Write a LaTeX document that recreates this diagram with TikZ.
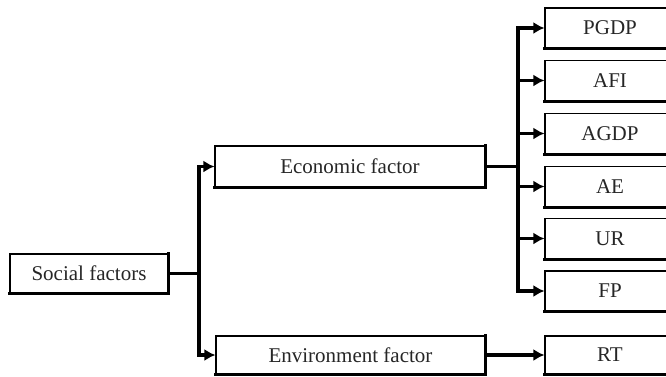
\documentclass[tikz,border=0pt]{standalone}
\usepackage{fontspec}
\setmainfont{Liberation Serif}
\usetikzlibrary{arrows.meta,positioning}
\tikzset{
  factorbox/.style={draw=black, line width=1.1pt, inner sep=0pt, text=black!85,
    font=\fontsize{21}{25}\selectfont},
  wideedge/.style={line width=3pt, line cap=rect},
  branch/.style={line width=3.2pt},
}

\begin{document}
\begin{tikzpicture}[>={Latex[length=11pt,width=12pt]}, x=1pt, y=-1pt]
      \useasboundingbox (0,0) rectangle (666,376);

      \node[factorbox, minimum width=158pt, minimum height=39pt] (soc) at (89,273.5) {Social factors};
      \node[factorbox, minimum width=270pt, minimum height=41pt] (eco) at (350,166.5) {Economic factor};
      \node[factorbox, minimum width=269pt, minimum height=38pt] (env) at (350.5,355) {Environment factor};

      \node[factorbox, minimum width=130pt, minimum height=40pt] (pgdp) at (610,28) {PGDP};
      \node[factorbox, minimum width=130pt, minimum height=40pt] (afi)  at (610,80.5) {AFI};
      \node[factorbox, minimum width=130pt, minimum height=40pt] (agdp) at (610,133.5) {AGDP};
      \node[factorbox, minimum width=130pt, minimum height=40pt] (ae)   at (610,186.5) {AE};
      \node[factorbox, minimum width=130pt, minimum height=40pt] (ur)   at (610,238.5) {UR};
      \node[factorbox, minimum width=130pt, minimum height=40pt] (fp)   at (610,291) {FP};
      \node[factorbox, minimum width=130pt, minimum height=38pt] (rt)   at (610,355) {RT};

      % heavy lower and right edges of the boxes
      \foreach \n in {soc,eco,env,pgdp,afi,agdp,ae,ur,fp,rt}
        \draw[wideedge] (\n.south west) -- (\n.south east) -- (\n.north east);

      \coordinate (split) at (199,273.5);
      \coordinate (fork) at (518,166.5);

      \draw[branch] (soc.east) -- (split);
      \draw[branch, ->] (split) |- (eco.west);
      \draw[branch, ->] (split) |- (env.west);

      \draw[branch] (eco.east) -- (fork);
      \foreach \n in {pgdp,afi,agdp,ae,ur,fp}
        \draw[branch, ->] (fork) |- (\n.west);

      \draw[branch, ->] (env.east) -- (rt.west);
    \end{tikzpicture}
\end{document}
